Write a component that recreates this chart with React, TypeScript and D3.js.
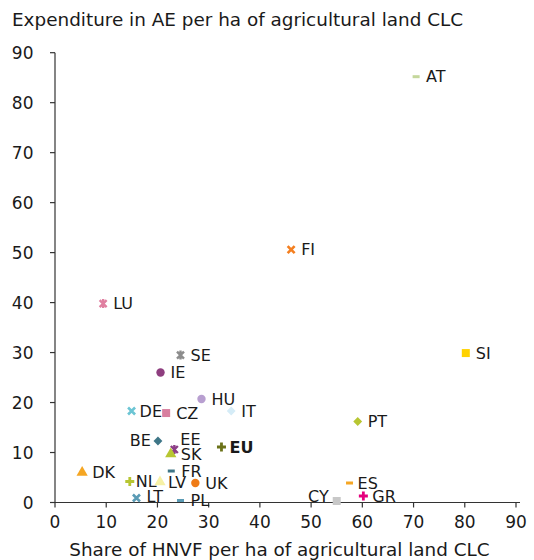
import React from "react";
import * as d3 from "d3";

// Data
const countries = ["AT","FI","LU","SI","SE","IE","HU","DE","CZ","IT","PT","BE","EE","SK","EU","DK","FR","NL","LV","UK","LT","PL","CY","ES","GR"];
const hnvfShare = [70.5,46.1,9.4,80.2,24.5,20.6,28.6,14.95,21.7,34.4,59.1,20.1,23.3,22.6,32.5,5.3,22.7,14.6,20.5,27.4,15.9,24.5,55.0,57.5,60.2];
const aeExpenditure = [85.2,50.6,39.8,29.9,29.5,26.0,20.7,18.3,17.9,18.3,16.2,12.3,10.6,9.7,11.1,6.0,6.3,4.2,4.1,3.9,0.9,0.4,0.3,3.9,1.3];
const xTicks = [0,10,20,30,40,50,60,70,80,90];
const yTicks = [0,10,20,30,40,50,60,70,80,90];

// Styles (not data)
const markerType: Record<string,string> = {
  AT:"dash",FI:"x",LU:"star",SI:"square",SE:"star",IE:"circle",HU:"circle",DE:"x",CZ:"square",IT:"diamond",
  PT:"diamond",BE:"diamond",EE:"star",SK:"triangle",EU:"plus",DK:"triangle",FR:"dash",NL:"plus",LV:"triangle",
  UK:"circle",LT:"x",PL:"dash",CY:"square",ES:"dash",GR:"plus"
};
const markerColor: Record<string,string> = {
  AT:"#c4d79b",FI:"#f47f20",LU:"#e07fa0",SI:"#ffd200",SE:"#8c8c8c",IE:"#8e3e7f",HU:"#b89fd0",DE:"#6cc5d4",
  CZ:"#d87fa0",IT:"#d5ecf7",PT:"#b7c632",BE:"#3e7687",EE:"#8c3f87",SK:"#b7c632",EU:"#6b7219",DK:"#f5a623",
  FR:"#3e7687",NL:"#b7c632",LV:"#f6f1a6",UK:"#ef7b16",LT:"#5a9bb5",PL:"#5a9bb5",CY:"#c8c8c8",ES:"#f5a623",GR:"#e5007d"
};
const labelOffset: Record<string,[number,number,string]> = {
  BE:[-7,-1,"end"], CY:[-8,-5,"end"], EE:[6,-10,"start"], NL:[6,0,"start"], LV:[8,0,"start"],
  DE:[8,0,"start"], EU:[8,0,"start"], ES:[8,0,"start"], LT:[10,-2,"start"], GR:[9,0,"start"]
};

const W = 534, H = 560;
const x = d3.scaleLinear().domain([0, 90]).range([55, 516]);
const y = d3.scaleLinear().domain([0, 90]).range([502.5, 52.7]);
const FONT = "'DejaVu Sans', Verdana, sans-serif";

function Marker({ type, color }: { type: string; color: string }) {
  switch (type) {
    case "circle":
      return <circle r={4.2} fill={color} />;
    case "square":
      return <path d={d3.symbol(d3.symbolSquare, 64)()!} fill={color} />;
    case "diamond":
      return <path d={d3.symbol(d3.symbolDiamond2, 50)()!} fill={color} />;
    case "triangle":
      return <path d={d3.symbol(d3.symbolTriangle, 55)()!} fill={color} />;
    case "dash":
      return <rect x={-3.5} y={-1.5} width={7} height={3} fill={color} />;
    case "x":
      return <path d="M-3.5,-3.5L3.5,3.5M-3.5,3.5L3.5,-3.5" stroke={color} strokeWidth={2.6} />;
    case "star":
      return <path d="M-3.5,-3.5L3.5,3.5M-3.5,3.5L3.5,-3.5M0,-4.5L0,4.5" stroke={color} strokeWidth={2.4} />;
    case "plus":
      return <path d="M-4.5,0L4.5,0M0,-4.5L0,4.5" stroke={color} strokeWidth={2.8} />;
  }
  return null;
}

export default function App() {
  const axisColor = "#333";
  return (
    <svg width={W} height={H} style={{ position: "absolute", left: 0, top: 0, background: "#fff" }} fontFamily={FONT}>
      <text x={12} y={26} fontSize={18.4} fill="#1a1a1a">Expenditure in AE per ha of agricultural land CLC</text>
      {/* y axis */}
      <line x1={x(0)} x2={x(0)} y1={y(90)} y2={y(0)} stroke={axisColor} strokeWidth={1.2} />
      {yTicks.map(t => (
        <g key={"y" + t}>
          <line x1={x(0) - 5} x2={x(0)} y1={y(t)} y2={y(t)} stroke={axisColor} strokeWidth={1.2} />
          <text x={33.5} y={y(t)} fontSize={17} textAnchor="end" dominantBaseline="central" fill="#1a1a1a">{t}</text>
        </g>
      ))}
      {/* x axis */}
      <line x1={x(0) - 5} x2={x(90) + 4} y1={y(0)} y2={y(0)} stroke={axisColor} strokeWidth={1.2} />
      {xTicks.map(t => (
        <g key={"x" + t}>
          <line x1={x(t)} x2={x(t)} y1={y(0)} y2={y(0) + 5} stroke={axisColor} strokeWidth={1.2} />
          <text x={x(t)} y={y(0) + 19} fontSize={17} textAnchor="middle" dominantBaseline="central" fill="#1a1a1a">{t}</text>
        </g>
      ))}
      <text x={279.5} y={549} fontSize={18.4} textAnchor="middle" dominantBaseline="central" fill="#1a1a1a">Share of HNVF per ha of agricultural land CLC</text>
      {/* points */}
      {countries.map((c, i) => {
        const px = x(hnvfShare[i]), py = y(aeExpenditure[i]);
        const off = labelOffset[c] || [10, 0, "start"];
        return (
          <g key={c}>
            <g transform={`translate(${px},${py})`}>
              <Marker type={markerType[c]} color={markerColor[c]} />
            </g>
            <text x={px + off[0]} y={py + off[1]} fontSize={16} textAnchor={off[2] as any} dominantBaseline="central"
              fontWeight={c === "EU" ? "bold" : "normal"} fill="#1a1a1a">{c}</text>
          </g>
        );
      })}
    </svg>
  );
}
